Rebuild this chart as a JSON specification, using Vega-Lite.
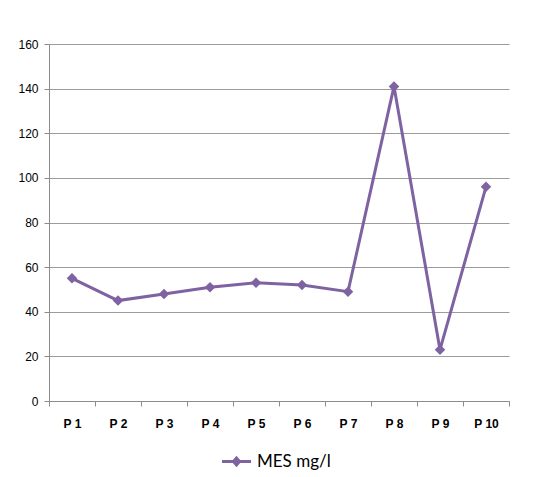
{
  "$schema": "https://vega.github.io/schema/vega-lite/v6.json",
  "width": 460,
  "height": 357,
  "autosize": {"type": "none"},
  "padding": {"left": 49, "top": 44, "right": 31, "bottom": 76},
  "background": "white",
  "data": {
    "values": [
      {"site": "P 1", "mes": 55},
      {"site": "P 2", "mes": 45},
      {"site": "P 3", "mes": 48},
      {"site": "P 4", "mes": 51},
      {"site": "P 5", "mes": 53},
      {"site": "P 6", "mes": 52},
      {"site": "P 7", "mes": 49},
      {"site": "P 8", "mes": 141},
      {"site": "P 9", "mes": 23},
      {"site": "P 10", "mes": 96}
    ]
  },
  "mark": {
    "type": "line",
    "strokeWidth": 3,
    "point": {"shape": "diamond", "filled": true, "size": 110, "opacity": 1}
  },
  "encoding": {
    "x": {
      "field": "site",
      "type": "ordinal",
      "sort": null,
      "scale": {"type": "band", "paddingInner": 0, "paddingOuter": 0},
      "axis": {
        "title": null,
        "labelAngle": 0,
        "tickBand": "extent",
        "grid": false,
        "domainColor": "#8c8c8c",
        "tickColor": "#8c8c8c",
        "tickSize": 5,
        "labelFont": "Liberation Sans",
        "labelFontSize": 12,
        "labelFontWeight": "bold",
        "labelColor": "#000000",
        "labelPadding": 12
      }
    },
    "y": {
      "field": "mes",
      "type": "quantitative",
      "scale": {"domain": [0, 160], "nice": false},
      "axis": {
        "title": null,
        "values": [0, 20, 40, 60, 80, 100, 120, 140, 160],
        "grid": true,
        "gridColor": "#9c9c9c",
        "gridWidth": 1,
        "domainColor": "#8c8c8c",
        "tickColor": "#8c8c8c",
        "tickSize": 5,
        "labelFont": "Liberation Sans",
        "labelFontSize": 12,
        "labelColor": "#000000",
        "labelPadding": 6
      }
    },
    "color": {
      "datum": "MES mg/l",
      "type": "nominal",
      "scale": {"range": ["#7E62A1"]},
      "legend": {
        "title": null,
        "orient": "none",
        "legendX": 179,
        "legendY": 409,
        "symbolType": "M-2.9,-0.3H2.9V0.3H-2.9Z M0,-1.15L1.0,0L0,1.15L-1.0,0Z",
        "symbolSize": 100,
        "symbolFillColor": "#7E62A1",
        "symbolStrokeColor": "#7E62A1",
        "symbolStrokeWidth": 0,
        "labelFont": "Lato",
        "labelFontSize": 17,
        "labelColor": "#000000",
        "labelOffset": 12,
        "symbolOffset": 0
      }
    }
  },
  "config": {
    "view": {"stroke": null}
  }
}
